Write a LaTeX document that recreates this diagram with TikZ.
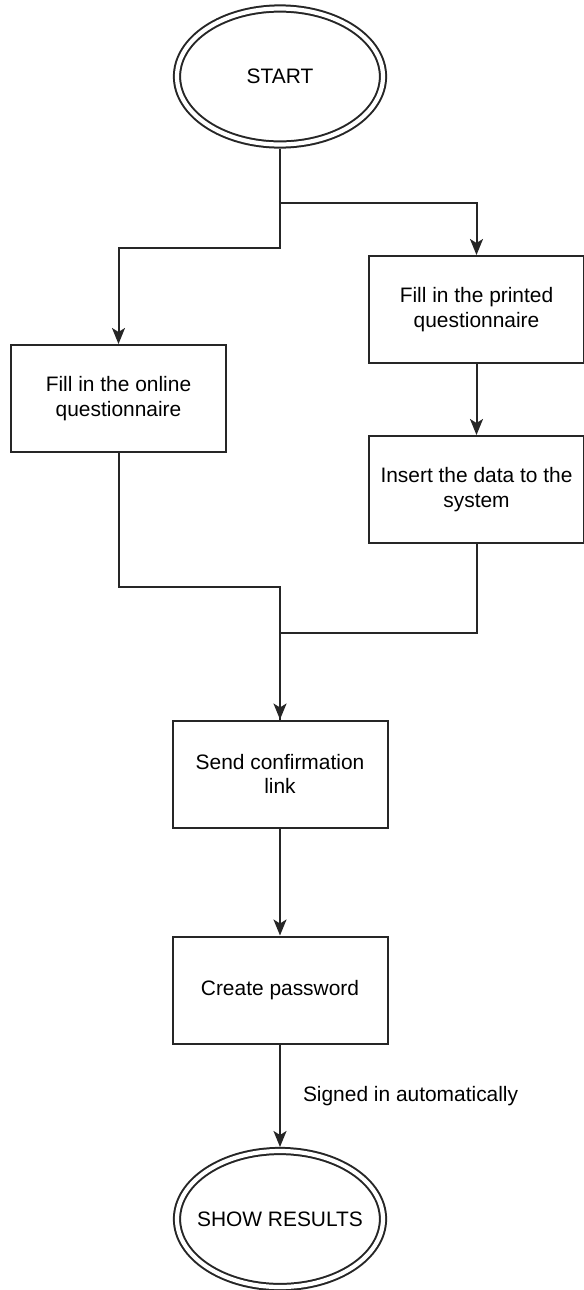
\documentclass[tikz,border=0pt]{standalone}
\usepackage{fontspec}
\setmainfont{Liberation Sans}
\usetikzlibrary{arrows.meta,positioning,shapes.geometric}

\begin{document}
\begin{tikzpicture}[x=1bp, y=-1bp, line width=2bp, draw=black!85,
  font=\fontsize{21}{24.5}\selectfont,
  proc/.style={draw, minimum width=215bp, minimum height=107bp, align=center, inner sep=0pt},
  term/.style={draw, ellipse, double, double distance=4.2bp, inner sep=0pt, minimum width=206bp, minimum height=136bp, outer sep=4bp},
  arr/.style={-{Stealth[length=16bp, width=13bp, inset=4bp]}}]
\useasboundingbox (0,0) rectangle (584,1290);

\node[term] (start) at (280,76.5) {\makebox[0pt][c]{START}};
\node[proc] (online) at (118.5,398.5) {Fill in the online\\questionnaire};
\node[proc] (printed) at (476.5,309.5) {Fill in the printed\\questionnaire};
\node[proc, below=71bp of printed] (insert) {Insert the data to the\\system};
\node[proc] (send) at (280,774) {Send confirmation\\link};
\node[proc, below=107bp of send] (create) {Create password};
\node[term] (showres) at (280,1219) {\makebox[0pt][c]{SHOW RESULTS}};

% split after start
\draw[arr] (start.south) -- ++(0,99) -| (online.north);
\draw[arr] (start.south) ++(0,54) -| (printed.north);
\draw[arr] (printed) -- (insert);

% join before send
\draw[arr] (online.south) -- ++(0,134) -| (send.north);
\draw (insert.south) -- ++(0,89) -| (send.north);

\draw[arr] (send) -- (create);
\draw[arr] (create) -- node[right=22bp, inner sep=0pt] {Signed in automatically} (showres);
\end{tikzpicture}
\end{document}
